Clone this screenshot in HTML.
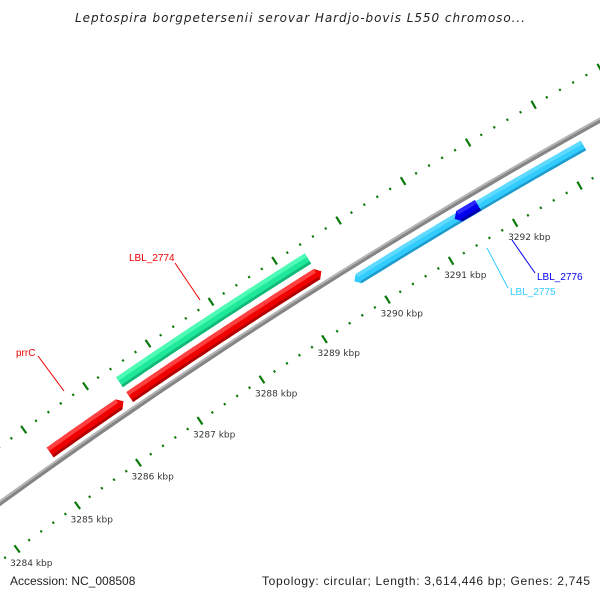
<!DOCTYPE html>
<html><head><meta charset="utf-8"><style>
body{margin:0;background:#fff}
svg{display:block}
text{font-family:"Liberation Sans","DejaVu Sans",sans-serif}
</style></head><body>
<svg id="map" width="600" height="600" viewBox="0 0 600 600" xmlns="http://www.w3.org/2000/svg">
<rect width="600" height="600" fill="#fff"/>
<text x="300" y="22" text-anchor="middle" font-size="12" font-style="italic" fill="#222" style="font-family:'DejaVu Sans',sans-serif" textLength="450">Leptospira borgpetersenii serovar Hardjo-bovis L550 chromoso...</text>
<g id="ticks"></g>
<g id="backbone"></g>
<g id="features"></g>
<g id="labels"></g>
<text x="10" y="585" font-size="12" fill="#222">Accession: NC_008508</text>
<text x="262" y="585" font-size="12" fill="#222" textLength="328">Topology: circular; Length: 3,614,446 bp; Genes: 2,745</text>
</svg>
<script>
// data (kbp)
const featureNames = ["prrC","LBL_2774","LBL_2775","LBL_2776"];
const featureStarts = [3285.11, 3286.40, 3289.75, 3291.33];
const featureEnds   = [3286.30, 3289.39, 3293.31, 3291.69];
const red2Start = 3286.40, red2End = 3289.45;
const tickValues = [3282,3283,3284,3285,3286,3287,3288,3289,3290,3291,3292,3293,3294,3295];
const tickLabels = ["3282 kbp","3283 kbp","3284 kbp","3285 kbp","3286 kbp","3287 kbp","3288 kbp","3289 kbp","3290 kbp","3291 kbp","3292 kbp","3293 kbp","3294 kbp","3295 kbp"];

const NS="http://www.w3.org/2000/svg";
const CX=3501, CY=5326.5, DEG0=-126.10, DPK=0.7213, K0=3284, RB=5960;
function ang(k){return (DEG0+(k-K0)*DPK)*Math.PI/180;}
function pt(k,r){const a=ang(k);return [CX+r*Math.cos(a),CY+r*Math.sin(a)];}
function mk(tag,attrs,parent){const e=document.createElementNS(NS,tag);for(const a in attrs)e.setAttribute(a,attrs[a]);parent.appendChild(e);return e;}
function arcPts(k1,k2,r){const p=[];const n=40;for(let i=0;i<=n;i++){p.push(pt(k1+(k2-k1)*i/n,r));}return p;}
function band(k1,k2,r1,r2){return arcPts(k1,k2,r2).concat(arcPts(k1,k2,r1).reverse());}
function ps(p){return p.map(q=>q[0].toFixed(1)+","+q[1].toFixed(1)).join(" ");}

// ticks
const tg=document.getElementById('ticks');
[[RB-47,'lower'],[RB+46,'upper']].forEach(([r,nm])=>{
  for(let i=0;i<tickValues.length-1;i++){
    for(let j=0;j<5;j++){
      const k=tickValues[i]+j*0.2;
      const major=j===0;
      const len=major?4.5:1.2;
      const a=pt(k,r-len),b=pt(k,r+len);
      if(a[0]<-5||a[0]>605||a[1]<-5||a[1]>605)continue;
      const l=mk('line',{x1:a[0],y1:a[1],x2:b[0],y2:b[1],stroke:'#0a7a0a','stroke-width':major?2.2:2},tg);
      
      
    }
    if(nm==='lower'){
      const p=pt(tickValues[i],r);
      if(p[0]>-10&&p[0]<550&&p[1]<575&&p[1]>0){
        const t=mk('text',{x:p[0]-7,y:p[1]+17,'font-size':9,fill:'#333',style:"font-family:'DejaVu Sans',sans-serif"},tg);
        t.textContent=tickLabels[i];
        
        
      }
    }
  }
});

// backbone
const bg=document.getElementById('backbone');
const bb1=mk('polygon',{points:ps(band(3282.5,3295.5,RB-2.5,RB+2.5)),fill:'#858585'},bg);


const bb2=mk('polygon',{points:ps(band(3282.5,3295.5,RB+0.5,RB+2.5)),fill:'#b5b5b5'},bg);



// features
const fg=document.getElementById('features');
function feature(k1,k2,rc,w,fill,light,dark,dir,name){
  const g=mk('g',{},fg);
  
  
  const h=w/2, ah=0.07;
  let pts;
  if(dir>0){pts=arcPts(k1,k2-ah,rc+h).concat([pt(k2,rc)]).concat(arcPts(k1,k2-ah,rc-h).reverse());}
  else if(dir<0){pts=[pt(k1,rc)].concat(arcPts(k1+ah,k2,rc+h)).concat(arcPts(k1+ah,k2,rc-h).reverse());}
  else pts=band(k1,k2,rc-h,rc+h);
  mk('polygon',{points:ps(pts),fill:fill},g);
  const s1=dir<0?k1+ah:k1, s2=dir>0?k2-ah:k2;
  mk('polygon',{points:ps(band(s1,s2,rc+h*0.3,rc+h)),fill:light},g);
  mk('polygon',{points:ps(band(s1,s2,rc-h,rc-h*0.55)),fill:dark},g);
}
feature(featureStarts[1],featureEnds[1],RB+30,12,'#1fe89a','#4dfbb5','#12b878',0,'feature-lbl-2774');
feature(featureStarts[0],featureEnds[0],RB+12,12,'#ee0000','#ff4040','#b00000',1,'feature-prrc');
feature(red2Start,red2End,RB+12,12,'#ee0000','#ff4040','#b00000',1,'feature-red-gene');
feature(featureStarts[2],featureEnds[2],RB-14,11,'#33ccff','#5fdaff','#1f9ccc',-1,'feature-lbl-2775');
feature(featureStarts[3],featureEnds[3],RB-13,12,'#0000ee','#2a2aff','#0000aa',-1,'feature-lbl-2776');

// labels
const lg=document.getElementById('labels');
const labelDefs=[
 [featureNames[0],'#ee0000',16,356,[38,356,64,391]],
 [featureNames[1],'#ee0000',129,261,[175,263,200,300]],
 [featureNames[3],'#0000ee',537,280,[512,240,535,273]],
 [featureNames[2],'#33ccff',510,295,[487,248,508,288]]
];
labelDefs.forEach(d=>{
  const l=mk('line',{x1:d[4][0],y1:d[4][1],x2:d[4][2],y2:d[4][3],stroke:d[1],'stroke-width':1},lg);
  
  
  const t=mk('text',{x:d[2],y:d[3],'font-size':10,fill:d[1]},lg);
  t.textContent=d[0];
  
  
});
</script>
</body></html>
